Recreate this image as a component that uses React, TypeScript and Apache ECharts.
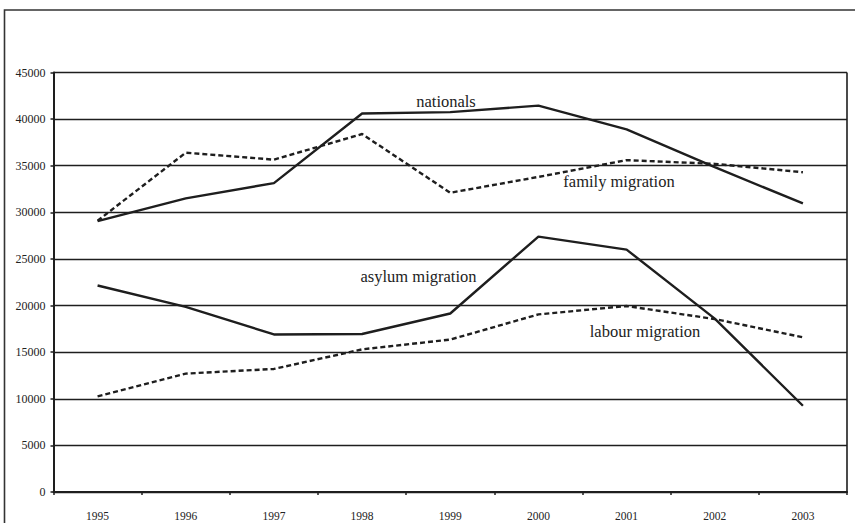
import React, { useEffect, useRef } from "react";
import * as echarts from "echarts";

const years = ["1995", "1996", "1997", "1998", "1999", "2000", "2001", "2002", "2003"];
const nationals = [29050, 31500, 33130, 40600, 40750, 41450, 38900, 34850, 30950];
const familyMigration = [29100, 36400, 35650, 38400, 32100, 33800, 35600, 35200, 34300];
const asylumMigration = [22150, 19850, 16900, 16950, 19150, 27400, 26000, 18600, 9250];
const labourMigration = [10250, 12700, 13200, 15300, 16350, 19050, 19950, 18550, 16600];

const FONT = "'Liberation Serif', 'Times New Roman', serif";
const INK = "#1e1e1e";

export default function App() {
  const ref = useRef<HTMLDivElement>(null);
  useEffect(() => {
    if (!ref.current) return;
    const chart = echarts.init(ref.current, undefined, { renderer: "svg" });
    const solid = { color: INK, width: 2.4, type: "solid" as const };
    const dashed = { color: INK, width: 2.4, type: [5, 3] as any };
    const mk = (name: string, data: number[], ls: any) => ({
      name,
      type: "line",
      data,
      symbol: "none",
      lineStyle: ls,
      itemStyle: { color: INK },
      z: 5,
    });
    const label = (text: string, x: number, y: number) => ({
      type: "text",
      x,
      y,
      style: { text, fontFamily: FONT, fontSize: 16.5, fill: "#222", align: "center", verticalAlign: "middle" },
      z: 10,
    });
    chart.setOption({
      animation: false,
      backgroundColor: "#ffffff",
      grid: { left: 53.5, right: 8, top: 72.5, bottom: 31, containLabel: false },
      xAxis: {
        type: "category",
        data: years,
        boundaryGap: true,
        axisLine: { lineStyle: { color: INK, width: 2 } },
        axisTick: { show: true, length: 3, lineStyle: { color: INK, width: 1.5 } },
        axisLabel: { color: "#222", fontFamily: FONT, fontSize: 11.5, margin: 18 },
        splitLine: { show: false },
      },
      yAxis: {
        type: "value",
        min: 0,
        max: 45000,
        interval: 5000,
        axisLine: { show: true, lineStyle: { color: INK, width: 2 } },
        axisTick: { show: true, length: 3, lineStyle: { color: INK, width: 1.5 } },
        axisLabel: {
          color: "#222",
          fontFamily: FONT,
          fontSize: 12,
          margin: 8,
          formatter: (v: number) => String(v),
        },
        splitLine: { show: true, lineStyle: { color: INK, width: 1.4 } },
      },
      series: [
        mk("nationals", nationals, solid),
        mk("family migration", familyMigration, dashed),
        mk("asylum migration", asylumMigration, solid),
        mk("labour migration", labourMigration, dashed),
      ],
      graphic: [
        {
          type: "rect",
          shape: { x: 4.5, y: 10, width: 1000, height: 800 },
          style: { fill: "none", stroke: "#333", lineWidth: 1.6 },
          silent: true,
          z: 0,
        },
        {
          type: "rect",
          shape: { x: 847, y: 72.5, width: 0, height: 420 },
          style: { fill: "none", stroke: INK, lineWidth: 1.6 },
          silent: true,
          z: 1,
        },
        label("nationals", 446, 101),
        label("family migration", 619, 181),
        label("asylum migration", 418.5, 276),
        label("labour migration", 645, 331),
      ],
    });
    return () => chart.dispose();
  }, []);
  return (
    <div
      ref={ref}
      style={{ position: "fixed", left: 0, top: 0, width: 855, height: 523, background: "#fff" }}
    />
  );
}
